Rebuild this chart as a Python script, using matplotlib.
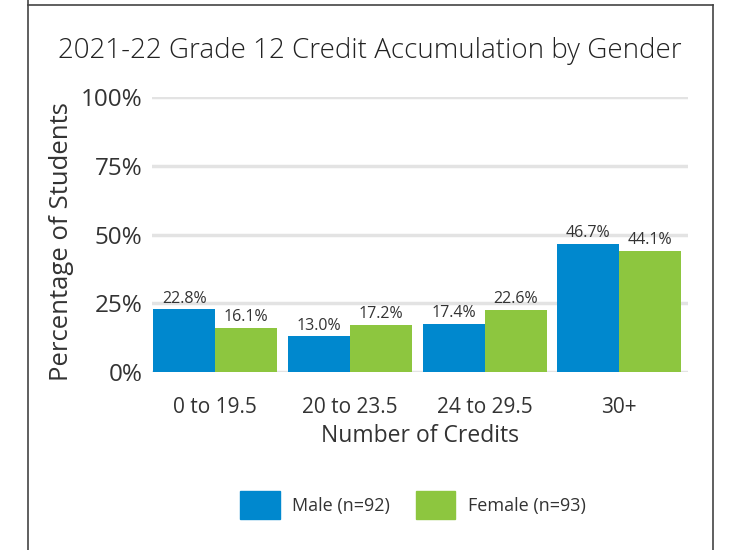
import matplotlib
matplotlib.use("Agg")
import matplotlib.pyplot as plt
import numpy as np
from matplotlib.lines import Line2D
from matplotlib.patches import Patch

categories = ["0 to 19.5", "20 to 23.5", "24 to 29.5", "30+"]
male = [22.8, 13.0, 17.4, 46.7]
female = [16.1, 17.2, 22.6, 44.1]
series_labels = ["Male (n=92)", "Female (n=93)"]
y_ticks = [0, 25, 50, 75, 100]

BLUE = "#0088CE"
GREEN = "#8DC63F"
TEXT = "#333333"

plt.rcParams["font.family"] = ["Open Sans", "DejaVu Sans"]

fig = plt.figure(figsize=(7.29, 5.5), dpi=100)
ax = fig.add_axes([152 / 729, 1 - 372 / 550, 536 / 729, 275 / 550])

x = np.arange(len(categories))
width = 0.46
bars_m = ax.bar(x - width / 2, male, width, color=BLUE, zorder=3)
bars_f = ax.bar(x + width / 2, female, width, color=GREEN, zorder=3)

for bars, vals in ((bars_m, male), (bars_f, female)):
    for b, v in zip(bars, vals):
        ax.text(b.get_x() + b.get_width() / 2, v + 1.0, f"{v:.1f}%",
                ha="center", va="bottom", fontsize=11.5, color=TEXT)

ax.set_xlim(-0.47, 3.51)
ax.set_ylim(0, 100)
ax.set_yticks(y_ticks)
ax.set_yticklabels([f"{t}%" for t in y_ticks], fontsize=17.5, color=TEXT)
ax.set_xticks(x)
ax.set_xticklabels(categories, fontsize=15, color=TEXT)
ax.tick_params(axis="x", length=0, pad=18)
ax.tick_params(axis="y", length=0, pad=7)
ax.grid(axis="y", color="#e3e3e3", linewidth=2.5, zorder=0)
for s in ax.spines.values():
    s.set_visible(False)

ax.set_xlabel("Number of Credits", fontsize=16.5, color=TEXT, labelpad=4)
ax.set_ylabel("Percentage of Students", fontsize=18.5, color=TEXT)
ax.yaxis.set_label_coords(-0.145, 0.473)
fig.suptitle("2021-22 Grade 12 Credit Accumulation by Gender",
             x=370 / 729, y=1 - 37 / 550, fontsize=20, color="#222222", va="top",
             fontweight="light")

handles = [Patch(color=BLUE), Patch(color=GREEN)]
fig.legend(handles, series_labels, loc="center", bbox_to_anchor=(413 / 729, 1 - 505 / 550),
           ncol=2, frameon=False, fontsize=13, handlelength=2.2, handleheight=2.0,
           handletextpad=0.7, columnspacing=1.4, labelcolor=TEXT)

for xs, ys in (([28, 28], [0, 550]), ([28, 713], [5, 5]), ([713, 713], [5, 550])):
    fig.add_artist(Line2D([v / 729 for v in xs], [1 - v / 550 for v in ys],
                          color="#444444", linewidth=1.2))

fig.savefig("out.png", dpi=100)
